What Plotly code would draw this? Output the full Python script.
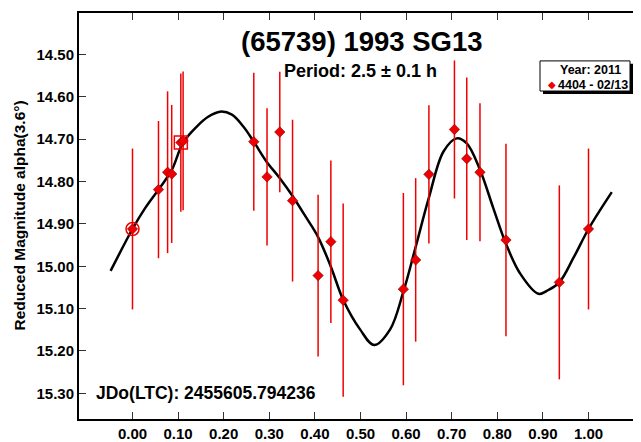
import plotly.graph_objects as go

# ---------------- data ----------------
phase = [0.000, 0.057, 0.077, 0.086, 0.106, 0.111, 0.266, 0.295, 0.323, 0.351, 0.407,
         0.435, 0.462, 0.594, 0.621, 0.650, 0.706, 0.733, 0.762, 0.819, 0.936, 1.000]
mag = [14.912, 14.819, 14.778, 14.782, 14.708, 14.704, 14.706, 14.789, 14.683, 14.845, 15.022,
       14.942, 15.080, 15.054, 14.985, 14.783, 14.677, 14.746, 14.778, 14.938, 15.038, 14.912]
err = [0.190, 0.162, 0.191, 0.163, 0.163, 0.164, 0.163, 0.162, 0.142, 0.191, 0.191,
       0.192, 0.228, 0.227, 0.193, 0.163, 0.163, 0.192, 0.163, 0.227, 0.229, 0.190]

# fitted curve
fit_phase = [-0.048, 0.000, 0.027, 0.057, 0.086, 0.111, 0.141, 0.166, 0.192, 0.218, 0.243,
             0.266, 0.294, 0.323, 0.351, 0.378, 0.407, 0.435, 0.462, 0.499, 0.530, 0.565,
             0.594, 0.622, 0.650, 0.682, 0.711, 0.733, 0.762, 0.791, 0.819, 0.850, 0.890,
             0.912, 0.936, 0.968, 1.000, 1.051]
fit_mag = [15.011, 14.912, 14.864, 14.819, 14.773, 14.708, 14.670, 14.647, 14.635, 14.642, 14.670,
           14.706, 14.753, 14.792, 14.834, 14.880, 14.931, 15.001, 15.079, 15.149, 15.186, 15.149,
           15.060, 14.950, 14.838, 14.729, 14.698, 14.710, 14.772, 14.862, 14.947, 15.017, 15.065,
           15.056, 15.038, 14.978, 14.912, 14.825]

# highlighted points (first observation: circle, a second one: square)
circle_idx = [0]
square_idx = [4]

x_ticks = [0.0, 0.1, 0.2, 0.3, 0.4, 0.5, 0.6, 0.7, 0.8, 0.9, 1.0]
x_tick_text = ["0.00", "0.10", "0.20", "0.30", "0.40", "0.50", "0.60", "0.70", "0.80", "0.90", "1.00"]
y_ticks = [14.5, 14.6, 14.7, 14.8, 14.9, 15.0, 15.1, 15.2, 15.3]
y_tick_text = ["14.50", "14.60", "14.70", "14.80", "14.90", "15.00", "15.10", "15.20", "15.30"]

title_text = "(65739) 1993 SG13"
period_text = "Period: 2.5 ± 0.1 h"
jd_text = "JDo(LTC): 2455605.794236"
y_title = "Reduced Magnitude alpha(3.6°)"
legend_year = "Year: 2011"
legend_series = "4404 - 02/13"

X_RANGE = [-0.1173, 1.1151]
Y_RANGE = [15.3606, 14.402]

# ---------------- layout geometry ----------------
# the page body has an 8px default margin, so the figure starts at (8, 8)
OFF = 8
W, H = 641 - OFF, 442 - OFF
ML, MT, MR, MB = 71, 5, 0, 18
PW, PH = W - ML - MR, H - MT - MB

def px(xp):
    return (xp - OFF - ML) / PW

def py(yp):
    return (H - MB - (yp - OFF)) / PH

FONT = "Arial, Liberation Sans, sans-serif"
RED = "#f00000"

fig = go.Figure()

fig.add_trace(go.Scatter(
    x=fit_phase, y=fit_mag, mode="lines", line=dict(color="black", width=2.5, shape="spline", smoothing=1.0),
    showlegend=False, hoverinfo="skip"))

fig.add_trace(go.Scatter(
    x=phase, y=mag, mode="markers",
    marker=dict(symbol="diamond", size=8, color=RED, line=dict(color="#800000", width=0.6)),
    error_y=dict(type="data", array=err, visible=True, color=RED, thickness=1.5, width=0),
    showlegend=False))

fig.add_trace(go.Scatter(
    x=[phase[i] for i in circle_idx], y=[mag[i] for i in circle_idx], mode="markers",
    marker=dict(symbol="circle-open", size=13, color=RED, line=dict(color=RED, width=1.5)),
    showlegend=False, hoverinfo="skip"))

fig.add_trace(go.Scatter(
    x=[phase[i] for i in square_idx], y=[mag[i] for i in square_idx], mode="markers",
    marker=dict(symbol="square-open", size=13, color=RED, line=dict(color=RED, width=1.5)),
    showlegend=False, hoverinfo="skip"))

# empty trace to carry the mirrored right-hand tick axis
fig.add_trace(go.Scatter(x=[], y=[], yaxis="y2", showlegend=False, hoverinfo="skip"))

tickfont = dict(family=FONT, size=15, color="black", weight="bold")

fig.update_layout(
    width=W, height=H,
    margin=dict(l=ML, r=MR, t=MT, b=MB, pad=0),
    paper_bgcolor="white", plot_bgcolor="white",
    showlegend=False,
    xaxis=dict(range=X_RANGE, tickvals=x_ticks, ticktext=x_tick_text, ticks="inside", ticklen=7,
               tickwidth=1, tickcolor="#333", showline=True, linewidth=2, linecolor="black",
               mirror="ticks", showgrid=False, zeroline=False, tickfont=tickfont),
    yaxis=dict(range=Y_RANGE, tickvals=y_ticks, ticktext=y_tick_text, ticks="inside", ticklen=7,
               tickwidth=1, tickcolor="#333", showline=True, linewidth=2, linecolor="black",
               mirror=False, showgrid=False, zeroline=False, tickfont=tickfont),
    yaxis2=dict(range=Y_RANGE, tickvals=y_ticks, overlaying="y", side="right", ticks="inside",
                ticklen=7, tickwidth=1, tickcolor="#333", showline=False, showgrid=False,
                zeroline=False, showticklabels=False),
)

# legend box with shadow
lx0, lx1, ly0, ly1 = 540, 630, 61.5, 92
fig.add_shape(type="rect", xref="paper", yref="paper",
              x0=px(lx0 + 3), x1=px(lx1 + 3), y0=py(ly1 + 3), y1=py(ly0 + 3),
              fillcolor="black", line=dict(width=0))
fig.add_shape(type="rect", xref="paper", yref="paper",
              x0=px(lx0), x1=px(lx1), y0=py(ly1), y1=py(ly0),
              fillcolor="white", line=dict(color="black", width=1))

ann = []
ann.append(dict(text=title_text, xref="paper", yref="paper", x=px(362), y=py(42),
                xanchor="center", yanchor="middle", showarrow=False,
                font=dict(family=FONT, size=27.5, color="black", weight="bold")))
ann.append(dict(text=period_text, xref="paper", yref="paper", x=px(360), y=py(72),
                xanchor="center", yanchor="middle", showarrow=False,
                font=dict(family=FONT, size=18, color="black", weight="bold")))
ann.append(dict(text=jd_text, xref="paper", yref="paper", x=px(94), y=py(398),
                xanchor="left", yanchor="middle", showarrow=False,
                font=dict(family=FONT, size=17.5, color="black", weight="bold")))
ann.append(dict(text=y_title, xref="paper", yref="paper", x=px(20), y=py(218),
                xanchor="center", yanchor="middle", showarrow=False, textangle=-90,
                font=dict(family=FONT, size=15.5, color="black", weight="bold")))
ann.append(dict(text=legend_year, xref="paper", yref="paper", x=px(623), y=py(71),
                xanchor="right", yanchor="middle", showarrow=False,
                font=dict(family=FONT, size=12.5, color="black", weight="bold")))
ann.append(dict(text=legend_series, xref="paper", yref="paper", x=px(556), y=py(85.5),
                xanchor="left", yanchor="middle", showarrow=False,
                font=dict(family=FONT, size=12.5, color="black", weight="bold")))
ann.append(dict(text="◆", xref="paper", yref="paper", x=px(551.5), y=py(85.5),
                xanchor="center", yanchor="middle", showarrow=False,
                font=dict(family="DejaVu Sans", size=10, color=RED)))
fig.update_layout(annotations=ann)

fig.write_html("out.html")
